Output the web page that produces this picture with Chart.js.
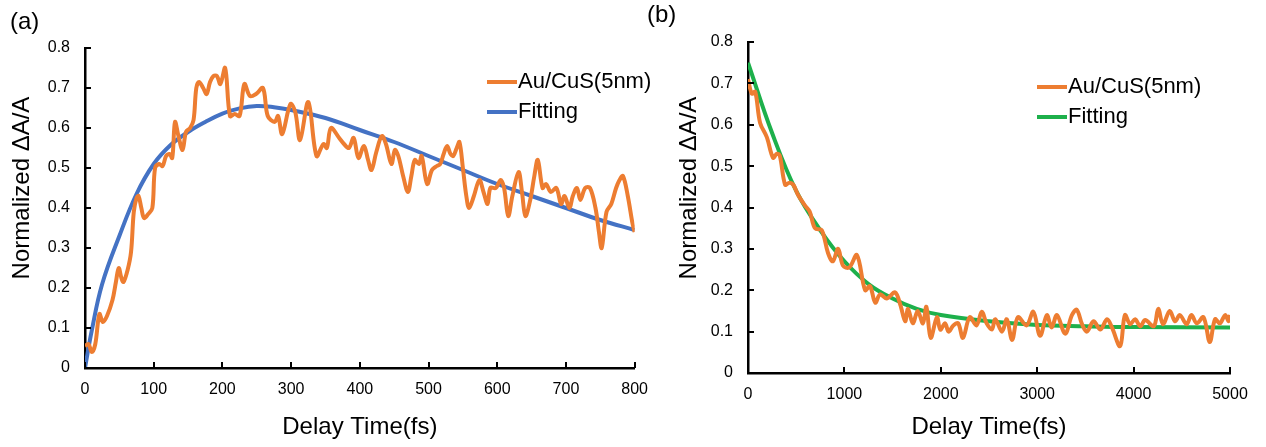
<!DOCTYPE html>
<html>
<head>
<meta charset="utf-8">
<script src="https://cdn.jsdelivr.net/npm/chart.js@4.4.1/dist/chart.umd.min.js"></script>
<style>
  body { margin: 0; background: #fff; width: 1266px; height: 447px; overflow: hidden; position: relative; }
  canvas { position: absolute; top: 0; }
</style>
</head>
<body>
<canvas id="chartA" width="660" height="447" style="left:0"></canvas>
<canvas id="chartB" width="626" height="447" style="left:640px"></canvas>
<script>
// panel (a): rise and decay, delay time 0-800 fs
var timeA = [0,5,10,15,21,26,32,40,45,49,53,56,62,67,71,75,78,82,86,92,98,102,108,113,118,123,127,131,136,142,147,153,158,162,166,172,177,182,187,192,197,204,211,218,225,232,240,249,259,266,276,281,287,299,306,313,325,337,347,352,358,370,377,384,391,398,406,412,417,424,432,438,446,451,456,463,470,475,480,486,490,498,505,512,517,522,527,532,536,541,545,550,555,559,566,574,580,586,590,598,605,610,616,622,631,636,641,648,654,659,666,671,678,686,693,698,705,710,716,721,728,735,743,748,752,759,766,773,778,783,790,797,800]
var auCuSA = [0.055,0.06,0.04,0.06,0.135,0.115,0.13,0.17,0.215,0.25,0.225,0.215,0.245,0.29,0.39,0.425,0.43,0.40,0.375,0.385,0.40,0.50,0.51,0.505,0.53,0.535,0.525,0.615,0.58,0.545,0.59,0.60,0.62,0.70,0.715,0.70,0.685,0.715,0.73,0.73,0.71,0.75,0.63,0.635,0.63,0.71,0.68,0.685,0.70,0.63,0.615,0.63,0.585,0.66,0.64,0.57,0.665,0.53,0.56,0.55,0.60,0.575,0.56,0.55,0.575,0.525,0.555,0.52,0.495,0.54,0.58,0.56,0.51,0.545,0.53,0.48,0.44,0.48,0.52,0.51,0.53,0.46,0.495,0.505,0.51,0.535,0.555,0.535,0.53,0.55,0.565,0.50,0.43,0.40,0.43,0.47,0.44,0.41,0.45,0.45,0.47,0.45,0.38,0.43,0.49,0.44,0.38,0.42,0.48,0.52,0.45,0.46,0.44,0.45,0.41,0.43,0.40,0.43,0.45,0.42,0.45,0.45,0.40,0.34,0.30,0.39,0.41,0.45,0.47,0.48,0.43,0.36,0.34]
var fitTimeA = [0,10,25,50,75,100,125,150,175,200,225,250,275,300,350,400,450,500,550,600,650,700,750,800]
var fitA = [0,0.095,0.21,0.33,0.435,0.51,0.558,0.59,0.615,0.636,0.649,0.655,0.652,0.645,0.625,0.595,0.565,0.53,0.495,0.46,0.43,0.40,0.37,0.345]

// panel (b): decay, delay time 0-5000 fs
var timeB = [0,40,75,125,195,260,300,330,385,430,470,520,590,640,695,765,830,880,935,985,1050,1130,1215,1265,1320,1370,1440,1525,1580,1630,1660,1710,1760,1815,1850,1895,1960,1995,2045,2080,2130,2180,2230,2300,2370,2425,2475,2530,2565,2635,2685,2740,2800,2890,2960,3030,3100,3150,3205,3290,3360,3410,3465,3515,3585,3655,3725,3775,3860,3910,3965,4015,4070,4120,4210,4255,4305,4375,4430,4480,4550,4600,4655,4725,4790,4845,4895,4950,4985,5000]
var auCuSB = [0.71,0.675,0.68,0.605,0.57,0.52,0.53,0.525,0.455,0.46,0.455,0.43,0.405,0.39,0.35,0.345,0.29,0.27,0.30,0.26,0.255,0.285,0.20,0.21,0.17,0.19,0.18,0.195,0.165,0.125,0.155,0.12,0.15,0.12,0.16,0.085,0.135,0.105,0.12,0.10,0.115,0.12,0.085,0.135,0.115,0.148,0.12,0.105,0.13,0.10,0.13,0.08,0.135,0.115,0.148,0.09,0.14,0.11,0.14,0.095,0.14,0.153,0.118,0.10,0.125,0.105,0.13,0.11,0.065,0.14,0.118,0.13,0.113,0.128,0.113,0.155,0.118,0.15,0.125,0.14,0.118,0.14,0.12,0.135,0.075,0.13,0.12,0.14,0.125,0.14]
var fitTimeB = [0,250,500,750,1000,1250,1500,1750,2000,2500,3000,3500,4000,5000]
var fitB = [0.75,0.58,0.44,0.345,0.27,0.215,0.18,0.155,0.14,0.125,0.116,0.113,0.111,0.11]

var seriesName = 'Au/CuS(5nm)'
var fitName = 'Fitting'

var FONT = "'Liberation Sans', Arial, sans-serif"

function pts(xs, ys) {
    return xs.map(function(x, i) { return {x: x, y: ys[i]} })
}

// ticks drawn inward plus panel tag, rotated y title and legend
var panelPlugin = {
    id: 'panel',
    afterDraw: function(chart, args, opts) {
        var ctx = chart.ctx
        var xs = chart.scales.x, ys = chart.scales.y
        var area = chart.chartArea
        ctx.save()
        ctx.strokeStyle = '#000'
        ctx.lineWidth = 2
        xs.ticks.forEach(function(t) {
            var px = Math.round(xs.getPixelForValue(t.value))
            ctx.beginPath(); ctx.moveTo(px, area.bottom); ctx.lineTo(px, area.bottom - 6); ctx.stroke()
        })
        ys.ticks.forEach(function(t) {
            var py = Math.round(ys.getPixelForValue(t.value))
            ctx.beginPath(); ctx.moveTo(area.left, py); ctx.lineTo(area.left + 6, py); ctx.stroke()
        })

        ctx.fillStyle = '#000'
        ctx.textBaseline = 'middle'
        ctx.textAlign = 'left'
        ctx.font = '24px ' + FONT
        ctx.fillText(opts.tag, opts.tagX, opts.tagY)

        ctx.save()
        ctx.translate(opts.yTitleX, opts.yTitleY)
        ctx.rotate(-Math.PI / 2)
        ctx.textAlign = 'center'
        ctx.font = '24px ' + FONT
        ctx.fillText('Normalized ΔA/A', 0, 0)
        ctx.restore()

        ctx.font = '22px ' + FONT
        ctx.lineWidth = 4
        chart.data.datasets.forEach(function(ds, i) {
            var y = opts.legendY + i * 30
            ctx.strokeStyle = ds.borderColor
            ctx.beginPath(); ctx.moveTo(opts.legendX, y); ctx.lineTo(opts.legendX + 30, y); ctx.stroke()
            ctx.fillText(ds.label, opts.legendX + 31, y)
        })
        ctx.restore()
    }
}

function makeChart(id, cfg) {
    var ctx = document.getElementById(id).getContext('2d')
    return new Chart(ctx, {
        type: 'scatter',
        data: {
            datasets: [{
                label: seriesName,
                data: pts(cfg.t, cfg.v),
                showLine: true,
                borderColor: '#ED7D31',
                borderWidth: 4,
                pointRadius: 0,
                tension: 0.35
            }, {
                label: fitName,
                data: pts(cfg.ft, cfg.fv),
                showLine: true,
                borderColor: cfg.fitColor,
                borderWidth: 4,
                pointRadius: 0,
                tension: 0.4
            }]
        },
        options: {
            responsive: false,
            animation: false,
            layout: { padding: cfg.padding },
            plugins: {
                legend: { display: false },
                tooltip: { enabled: false },
                panel: cfg.panel
            },
            scales: {
                x: {
                    type: 'linear',
                    min: 0,
                    max: cfg.xMax,
                    ticks: {
                        stepSize: cfg.xStep,
                        color: '#000',
                        font: { family: FONT, size: 16 },
                        padding: 12,
                        maxRotation: 0,
                        callback: function(v) { return String(v) }
                    },
                    grid: { display: false, drawTicks: false },
                    border: { color: '#000', width: 2.5 },
                    title: {
                        display: true,
                        text: 'Delay Time(fs)',
                        color: '#000',
                        font: { family: FONT, size: 24 },
                        padding: { top: 0, bottom: 5 }
                    },
                    afterFit: function(s) { s.height = cfg.xHeight }
                },
                y: {
                    min: 0,
                    max: 0.8,
                    ticks: {
                        stepSize: 0.1,
                        color: '#000',
                        font: { family: FONT, size: 16 },
                        padding: 15,
                        callback: function(v) { return String(Math.round(v * 10) / 10) }
                    },
                    grid: { display: false, drawTicks: false },
                    border: { color: '#000', width: 2.5 },
                    afterFit: function(s) { s.width = cfg.yWidth }
                }
            }
        },
        plugins: [panelPlugin]
    })
}

makeChart('chartA', {
    t: timeA, v: auCuSA, ft: fitTimeA, fv: fitA,
    fitColor: '#4472C4',
    xMax: 800, xStep: 100,
    padding: { left: 0, top: 48, right: 13, bottom: 0 },
    xHeight: 79, yWidth: 85,
    panel: { tag: '(a)', tagX: 10, tagY: 22, yTitleX: 22, yTitleY: 188, legendX: 487, legendY: 82 }
})

makeChart('chartB', {
    t: timeB, v: auCuSB, ft: fitTimeB, fv: fitB,
    fitColor: '#1DB04B',
    xMax: 5000, xStep: 1000,
    padding: { left: 0, top: 42, right: 36, bottom: 0 },
    xHeight: 74, yWidth: 108,
    panel: { tag: '(b)', tagX: 7, tagY: 15, yTitleX: 49, yTitleY: 188, legendX: 397, legendY: 87 }
})
</script>
</body>
</html>
